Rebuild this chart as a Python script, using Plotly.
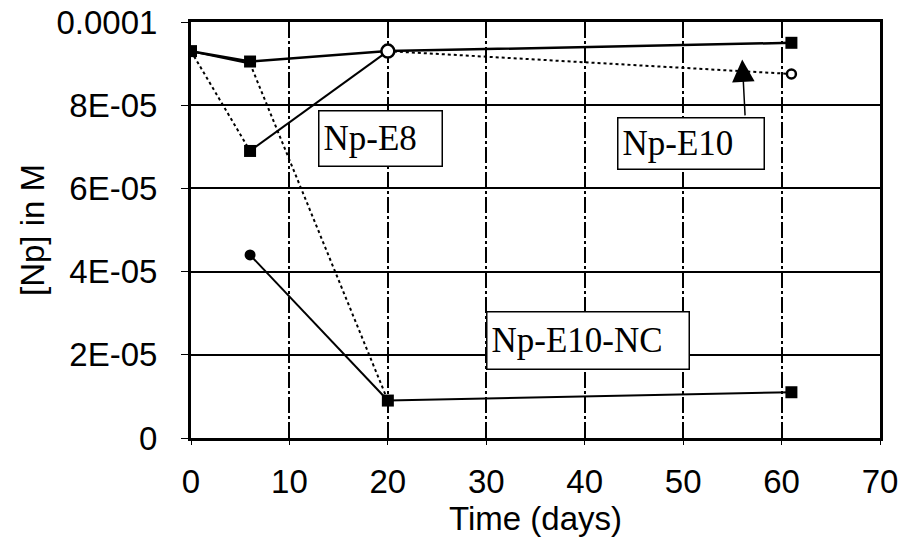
import plotly.graph_objects as go

# ---- data ----
days = [0, 6, 20, 61]
np_e10 = [9.3e-5, 9.05e-5, 9.3e-5, 9.5e-5]
np_e8 = [9.3e-5, 6.9e-5, 9.3e-5, 8.75e-5]
np_e10_nc = [9.3e-5, 9.0e-5, 0.9e-5, 1.1e-5]
nc_b_days = [6, 20]
np_e10_nc_b = [4.4e-5, 0.9e-5]

e8_dash = ["dot", "solid", "dot"]
nc_dash = ["solid", "dot", "solid"]

x_ticks = [0, 10, 20, 30, 40, 50, 60, 70]
y_ticks = [0, 2e-5, 4e-5, 6e-5, 8e-5, 1e-4]
y_ticktext = ["0", "2E-05", "4E-05", "6E-05", "8E-05", "0.0001"]

fig = go.Figure()

def seg_traces(xs, ys, dashes, width=2):
    for i, d in enumerate(dashes):
        fig.add_trace(go.Scatter(
            x=xs[i:i + 2], y=ys[i:i + 2], mode="lines",
            line=dict(color="black", width=width, dash=d),
            hoverinfo="skip"))

# Np-E8
seg_traces(days, np_e8, e8_dash)
# Np-E10-NC
seg_traces(days, np_e10_nc, nc_dash)
# Np-E10-NC second run
fig.add_trace(go.Scatter(x=nc_b_days, y=np_e10_nc_b, mode="lines",
                         line=dict(color="black", width=2)))
# Np-E10 (solid)
fig.add_trace(go.Scatter(x=days, y=np_e10, mode="lines",
                         line=dict(color="black", width=2.5)))

# markers
fig.add_trace(go.Scatter(x=[days[0], days[1], days[3]],
                         y=[np_e10[0], np_e10[1], np_e10[3]],
                         mode="markers",
                         marker=dict(symbol="square", size=12, color="black")))
fig.add_trace(go.Scatter(x=[days[1]], y=[np_e8[1]], mode="markers",
                         marker=dict(symbol="square", size=12, color="black")))
fig.add_trace(go.Scatter(x=[days[2], days[3]], y=[np_e10_nc[2], np_e10_nc[3]],
                         mode="markers",
                         marker=dict(symbol="square", size=12, color="black")))
fig.add_trace(go.Scatter(x=[nc_b_days[0]], y=[np_e10_nc_b[0]], mode="markers",
                         marker=dict(symbol="circle", size=11, color="black")))
fig.add_trace(go.Scatter(x=[days[2]], y=[np_e8[2]], mode="markers",
                         marker=dict(symbol="circle", size=13, color="white",
                                     line=dict(color="black", width=2.5))))
fig.add_trace(go.Scatter(x=[days[3]], y=[np_e8[3]], mode="markers",
                         marker=dict(symbol="circle", size=9, color="white",
                                     line=dict(color="black", width=2.5))))

label_font = dict(family="Liberation Serif", size=35, color="black")
box = dict(bordercolor="black", borderwidth=1.5, borderpad=4,
           bgcolor="white", align="left", valign="middle", showarrow=False,
           font=label_font)

fig.add_annotation(x=56, y=9.1e-5, ax=56.3, ay=7.72e-5, axref="x", ayref="y",
                   text="", showarrow=True, arrowhead=2, arrowsize=3,
                   arrowwidth=1.5, arrowcolor="black")
fig.add_annotation(x=19.25, y=7.2e-5, text="Np-E8", width=114, height=46,
                   **box)
fig.add_annotation(x=50.8, y=7.08e-5, text="Np-E10", width=137, height=42,
                   **box)
fig.add_annotation(x=40.33, y=2.34e-5, text="Np-E10-NC", width=193,
                   height=48, **box)

axis_font = dict(family="Liberation Sans, Arial", size=33, color="black")

fig.update_xaxes(range=[0, 70], tickvals=x_ticks, showgrid=True,
                 gridcolor="black", gridwidth=1.5,
                 griddash="16px,3px,3px,3px", automargin=False,
                 zeroline=False, showline=True, linecolor="black",
                 linewidth=3, mirror=True, ticks="outside", ticklen=4,
                 tickcolor="black", tickfont=axis_font,
                 ticklabelstandoff=8,
                 title=dict(text="Time (days)", font=axis_font, standoff=0))
fig.update_yaxes(range=[0, 1e-4], tickvals=y_ticks, ticktext=y_ticktext,
                 showgrid=True, gridcolor="black", gridwidth=1.5,
                 automargin=False,
                 zeroline=False, showline=True, linecolor="black",
                 linewidth=3, mirror=True, ticks="outside", ticklen=7,
                 tickcolor="black", tickfont=axis_font,
                 ticklabelstandoff=17,
                 title=dict(text="[Np] in M", font=axis_font, standoff=2))

fig.update_layout(width=901, height=544,
                  margin=dict(l=191, r=21, t=22, b=106),
                  plot_bgcolor="white", paper_bgcolor="white",
                  showlegend=False)

fig.write_html("out.html")
